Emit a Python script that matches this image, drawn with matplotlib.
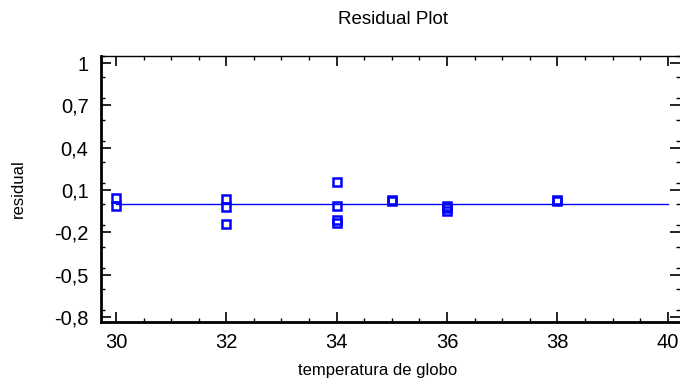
import matplotlib
matplotlib.use("Agg")
import matplotlib.pyplot as plt
from matplotlib.ticker import MultipleLocator, FuncFormatter

# Data: residuals by globe temperature
temp = [30, 30, 32, 32, 32, 34, 34, 34, 34, 35, 35, 36, 36, 36, 38, 38]
resid = [0.045, -0.015, 0.04, -0.02, -0.14, 0.16, -0.015, -0.11, -0.13,
         0.03, 0.025, -0.01, -0.025, -0.045, 0.03, 0.025]
line_x = [30, 40]
line_y = [0, 0]
yticks = [-0.8, -0.5, -0.2, 0.1, 0.4, 0.7, 1.0]
xticks = [30, 32, 34, 36, 38, 40]

plt.rcParams['font.family'] = ['Liberation Sans', 'DejaVu Sans']
fig = plt.figure(figsize=(6.8, 3.81), dpi=100)
ax = fig.add_axes([101/680, 1-322/381, (680-101)/680, (322-56)/381])

ax.plot(line_x, line_y, color='#0000ff', lw=1.0, zorder=2)
ax.plot(temp, resid, linestyle='none', marker='s', markersize=6.2,
        markerfacecolor='none', markeredgecolor='#0000ff', markeredgewidth=1.8, zorder=3)

ax.set_xlim(29.73, 40.22)
ax.set_ylim(-0.835, 1.05)
ax.set_xticks(xticks)
ax.set_yticks(yticks)
ax.xaxis.set_minor_locator(MultipleLocator(0.5))
ax.yaxis.set_minor_locator(MultipleLocator(0.15))
ax.yaxis.set_major_formatter(FuncFormatter(lambda v, p: ('%g' % round(v, 2)).replace('.', ',')))
ax.tick_params(which='both', direction='in', top=True, right=True, labelsize=14.5)
ax.tick_params(which='major', length=7, width=1.2)
ax.tick_params(axis='x', which='major', pad=8)
ax.tick_params(axis='y', which='major', pad=9)
ax.tick_params(which='minor', length=3, width=1.0)
ax.spines['left'].set_linewidth(2)
ax.spines['bottom'].set_linewidth(2)
ax.spines['top'].set_linewidth(1)
ax.spines['right'].set_visible(False)

ax.set_xlabel('temperatura de globo', fontsize=12)
ax.xaxis.set_label_coords((378-101)/(680-101), -(370-322)/(322-56))
ax.xaxis.label.set_va('center')
ax.set_ylabel('residual', fontsize=12)
ax.yaxis.set_label_coords(-(101-18)/(680-101), 0.5)
ax.yaxis.label.set_va('center')
fig.text(393/680, 1-20/381, 'Residual Plot', ha='center', va='center', fontsize=13.5)

fig.savefig('out.png', dpi=100)
